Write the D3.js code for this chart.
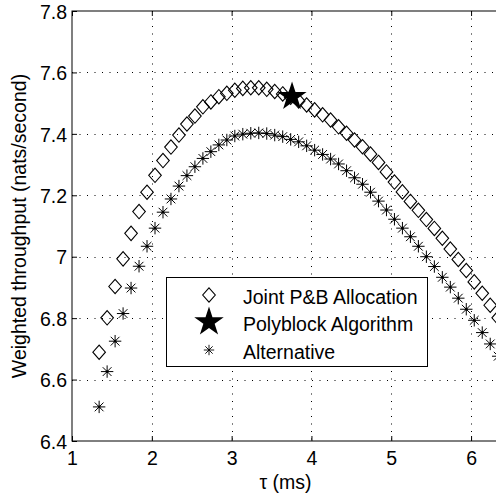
<!DOCTYPE html>
<html>
<head>
<meta charset="utf-8">
<script src="https://cdn.jsdelivr.net/npm/d3@7"></script>
<style>
  body { margin: 0; background: #fff; }
  svg { display: block; font-family: "Liberation Sans", Arial, Helvetica, sans-serif; }
</style>
</head>
<body>
<svg id="chart" width="496" height="495"></svg>
<script>
// tau (ms) sample points
var tau = [1.34, 1.44, 1.54, 1.64, 1.74, 1.84, 1.94, 2.04, 2.14, 2.24,
  2.34, 2.44, 2.54, 2.64, 2.74, 2.84, 2.94, 3.04, 3.14, 3.24,
  3.34, 3.44, 3.54, 3.64, 3.74, 3.84, 3.94, 4.04, 4.14, 4.24,
  4.34, 4.44, 4.54, 4.64, 4.74, 4.84, 4.94, 5.04, 5.14, 5.24,
  5.34, 5.44, 5.54, 5.64, 5.74, 5.84, 5.94, 6.04, 6.14, 6.24, 6.34];

var jointPB = [6.689, 6.801, 6.903, 6.993, 7.076, 7.147, 7.210, 7.265, 7.313, 7.357,
  7.396, 7.432, 7.458, 7.488, 7.504, 7.521, 7.532, 7.542, 7.548, 7.550,
  7.550, 7.545, 7.538, 7.530, 7.519, 7.507, 7.494, 7.478, 7.462, 7.445,
  7.423, 7.402, 7.380, 7.358, 7.334, 7.307, 7.276, 7.243, 7.211, 7.180,
  7.151, 7.121, 7.092, 7.060, 7.025, 6.991, 6.955, 6.918, 6.881, 6.842, 6.801];

var alternative = [6.511, 6.626, 6.725, 6.815, 6.898, 6.969, 7.034, 7.093, 7.145, 7.188,
  7.230, 7.264, 7.293, 7.320, 7.342, 7.364, 7.380, 7.393, 7.399, 7.402,
  7.403, 7.401, 7.396, 7.391, 7.382, 7.374, 7.361, 7.347, 7.333, 7.318,
  7.302, 7.280, 7.257, 7.236, 7.210, 7.181, 7.152, 7.122, 7.093, 7.065,
  7.034, 7.000, 6.968, 6.933, 6.901, 6.865, 6.829, 6.793, 6.753, 6.716, 6.676];

var polyblock = [{tau: 3.757, value: 7.521}];

var xTicks = [1, 2, 3, 4, 5, 6];
var yTicks = [6.4, 6.6, 6.8, 7, 7.2, 7.4, 7.6, 7.8];
var legendLabels = ["Joint P&B Allocation", "Polyblock Algorithm", "Alternative"];

var svg = d3.select('#chart');

// axes run past the right edge of the window, like the original figure
var x = d3.scaleLinear().domain([1, 6.35]).range([72, 499]);
var y = d3.scaleLinear().domain([6.4, 7.8]).range([441, 11]);

// dotted grid
var grid = svg.append('g').attr('stroke', '#000').attr('stroke-width', 1)
  .attr('stroke-dasharray', '1,6.5');
grid.selectAll('.gx').data(xTicks.slice(1)).enter().append('line')
  .attr('x1', function(d){ return Math.round(x(d)) + 0.5; })
  .attr('x2', function(d){ return Math.round(x(d)) + 0.5; })
  .attr('y1', y(7.8)).attr('y2', y(6.4));
grid.selectAll('.gy').data(yTicks.slice(1, -1)).enter().append('line')
  .attr('y1', function(d){ return Math.round(y(d)) + 0.5; })
  .attr('y2', function(d){ return Math.round(y(d)) + 0.5; })
  .attr('x1', x(1)).attr('x2', x(6.35));

// axes (inward ticks)
var fmt = function(d){ return d3.format('')(d); };
var axBottom = svg.append('g').attr('transform', 'translate(0,' + y(6.4) + ')')
  .call(d3.axisBottom(x).tickValues(xTicks).tickSize(-5).tickSizeOuter(0).tickFormat(fmt));
axBottom.selectAll('text').attr('y', 24).attr('dy', 0);
var axTop = svg.append('g').attr('transform', 'translate(0,' + y(7.8) + ')')
  .call(d3.axisTop(x).tickValues(xTicks).tickSize(-5).tickSizeOuter(0).tickFormat(''));
var axLeft = svg.append('g').attr('transform', 'translate(' + x(1) + ',0)')
  .call(d3.axisLeft(y).tickValues(yTicks).tickSize(-5).tickSizeOuter(0).tickFormat(fmt));
axLeft.selectAll('text').attr('x', -5).attr('dy', '0.37em');

[axBottom, axTop, axLeft].forEach(function(a){
  a.select('.domain').remove();
  a.selectAll('line').attr('stroke', '#000');
  a.selectAll('text').attr('fill', '#000').style('font-size', '19.5px')
    .style('font-family', '"Liberation Sans", Arial, sans-serif');
});

// frame
svg.append('rect')
  .attr('x', x(1)).attr('y', y(7.8))
  .attr('width', x(6.35) - x(1)).attr('height', y(6.4) - y(7.8))
  .attr('fill', 'none').attr('stroke', '#000').attr('stroke-width', 1);

// marker shapes
function diamondPath(w, h) {
  return 'M0,' + (-h) + 'L' + w + ',0L0,' + h + 'L' + (-w) + ',0Z';
}
function asteriskPath(r) {
  var d = r * Math.SQRT1_2;
  return 'M0,' + (-r) + 'V' + r + 'M' + (-r) + ',0H' + r +
    'M' + (-d) + ',' + (-d) + 'L' + d + ',' + d +
    'M' + (-d) + ',' + d + 'L' + d + ',' + (-d);
}
function starPath(R) {
  var r = R * 0.382, p = [];
  for (var i = 0; i < 10; i++) {
    var a = -Math.PI / 2 + i * Math.PI / 5, rr = i % 2 ? r : R;
    p.push([rr * Math.cos(a), rr * Math.sin(a)]);
  }
  return 'M' + p.map(function(q){ return q[0].toFixed(2) + ',' + q[1].toFixed(2); }).join('L') + 'Z';
}

var plot = svg.append('g');

plot.selectAll('.alt').data(alternative).enter().append('g')
  .attr('transform', function(d, i){ return 'translate(' + x(tau[i]) + ',' + y(d) + ')'; })
  .each(function(){
    var g = d3.select(this);
    g.append('path').attr('d', asteriskPath(6.2)).attr('stroke', '#000')
      .attr('stroke-width', 1).attr('fill', 'none');
    g.append('circle').attr('r', 1.4).attr('fill', '#000');
  });

plot.selectAll('.joint').data(jointPB).enter().append('path')
  .attr('transform', function(d, i){ return 'translate(' + x(tau[i]) + ',' + y(d) + ')'; })
  .attr('d', diamondPath(6.3, 7.2))
  .attr('fill', 'none').attr('stroke', '#000').attr('stroke-width', 1.1);

plot.selectAll('.poly').data(polyblock).enter().append('path')
  .attr('transform', function(d){ return 'translate(' + x(d.tau) + ',' + y(d.value) + ')'; })
  .attr('d', starPath(15.3))
  .attr('fill', '#000');

// legend
var legend = svg.append('g');
legend.append('rect')
  .attr('x', 166.5).attr('y', 277.5).attr('width', 261).attr('height', 89)
  .attr('fill', '#fff').attr('stroke', '#000').attr('stroke-width', 1);
var rowY = [295, 322, 350];
legend.append('path').attr('transform', 'translate(209,' + rowY[0] + ')')
  .attr('d', diamondPath(6.3, 7.2)).attr('fill', 'none').attr('stroke', '#000').attr('stroke-width', 1.1);
legend.append('path').attr('transform', 'translate(209,' + rowY[1] + ')')
  .attr('d', starPath(15.5)).attr('fill', '#000');
legend.append('path').attr('transform', 'translate(209,' + rowY[2] + ')')
  .attr('d', asteriskPath(5.2)).attr('fill', 'none').attr('stroke', '#000').attr('stroke-width', 0.9);
legend.selectAll('.lt').data(legendLabels).enter().append('text')
  .attr('x', 243).attr('y', function(d, i){ return rowY[i] + 5; })
  .attr('dy', '0.2em')
  .style('font-size', '19.5px').attr('fill', '#000')
  .text(function(d){ return d; });

// axis labels
svg.append('text')
  .attr('x', (x(1) + x(6.35)) / 2).attr('y', 489)
  .attr('text-anchor', 'middle').style('font-size', '19.5px')
  .text('\u03c4 (ms)');
svg.append('text')
  .attr('transform', 'translate(26,' + (y(7.1)) + ') rotate(-90)')
  .attr('text-anchor', 'middle').style('font-size', '19.5px')
  .text('Weighted throughput (nats/second)');
</script>
</body>
</html>
